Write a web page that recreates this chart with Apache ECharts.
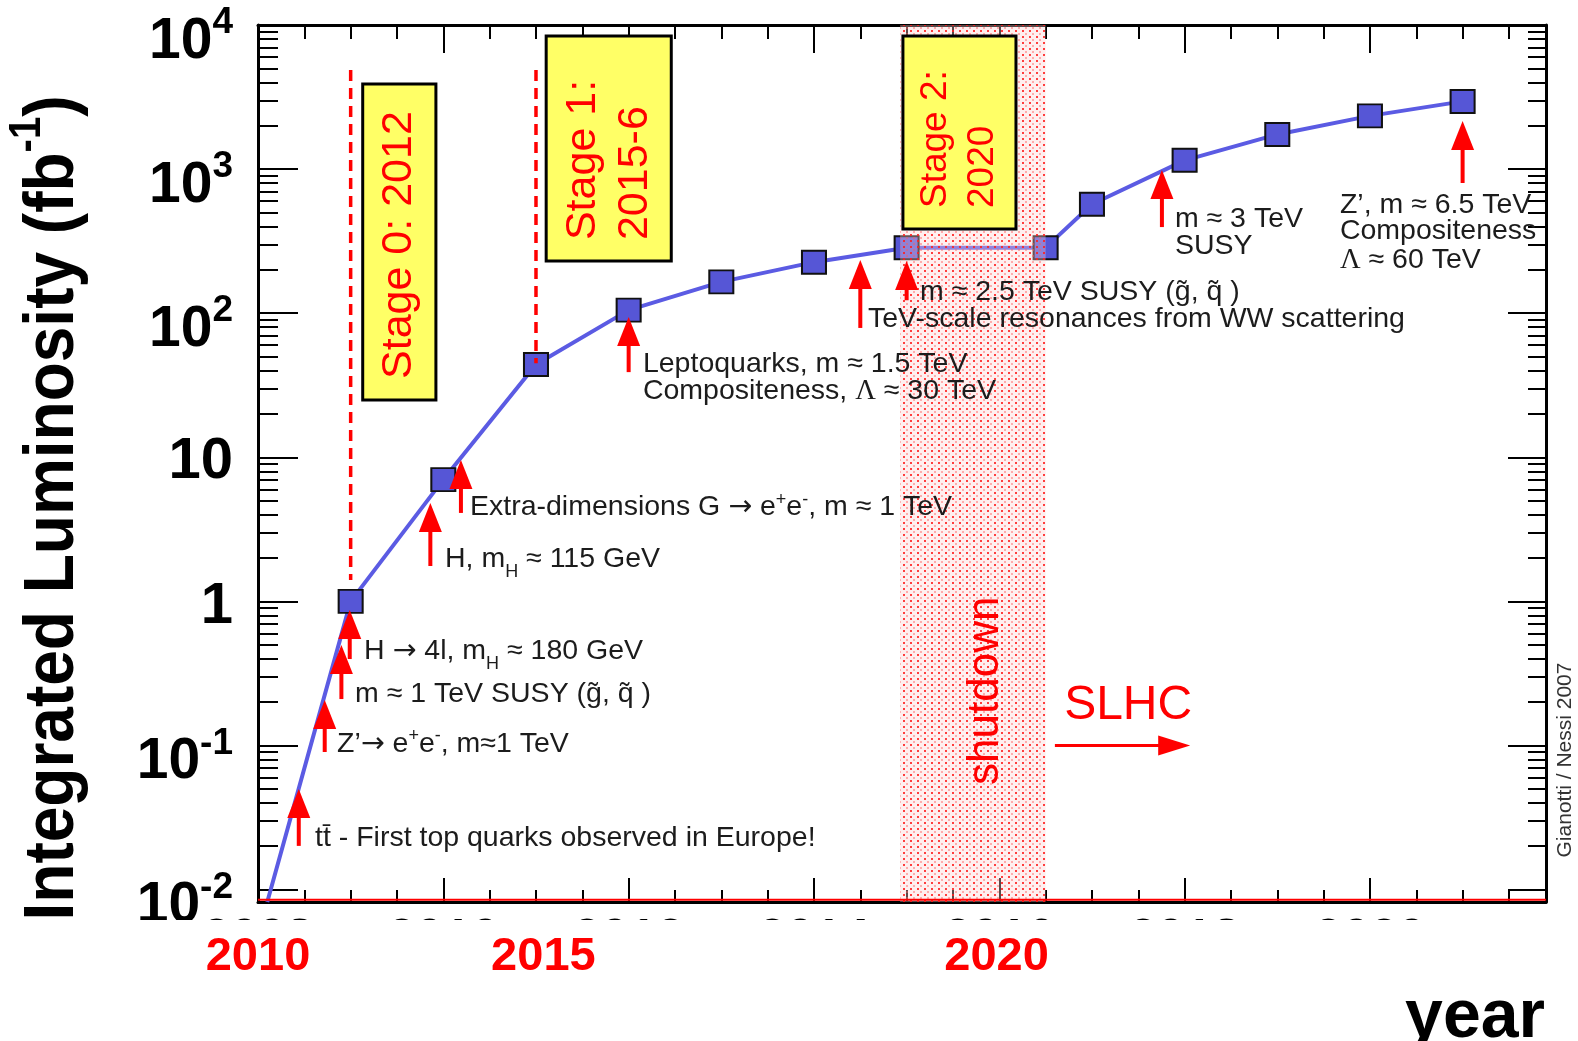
<!DOCTYPE html>
<html>
<head>
<meta charset="utf-8">
<title>Integrated Luminosity vs year</title>
<script src="https://cdn.jsdelivr.net/npm/echarts@6/dist/echarts.min.js"></script>
<style>
  html, body { margin: 0; padding: 0; background: #fff; }
  #chart { width: 1578px; height: 1041px; }
</style>
</head>
<body>
<div id="chart"></div>
<script>
// Projected integrated luminosity (fb^-1) per year
const years = [2008.1, 2009, 2010, 2011, 2012, 2013, 2014, 2015, 2016.5, 2017, 2018, 2019, 2020, 2021];
const luminosity = [0.0082, 1, 7, 44, 105, 165, 226, 285, 285, 570, 1150, 1740, 2340, 2950];

// Axis ticks and labels
const yearMajorTicks = [2008, 2010, 2012, 2014, 2016, 2018, 2020];
const yearMinorTicks = [2008.5, 2009, 2009.5, 2010.5, 2011, 2011.5, 2012.5, 2013, 2013.5,
  2014.5, 2015, 2015.5, 2016.5, 2017, 2017.5, 2018.5, 2019, 2019.5, 2020.5, 2021, 2021.5];
const lumDecades = [0.01, 0.1, 1, 10, 100, 1000, 10000];
const lumMinorTicks = [
  0.02, 0.03, 0.04, 0.05, 0.06, 0.07, 0.08, 0.09,
  0.2, 0.3, 0.4, 0.5, 0.6, 0.7, 0.8, 0.9,
  2, 3, 4, 5, 6, 7, 8, 9,
  20, 30, 40, 50, 60, 70, 80, 90,
  200, 300, 400, 500, 600, 700, 800, 900,
  2000, 3000, 4000, 5000, 6000, 7000, 8000, 9000
];
const calendarLabels = ['2010', '2015', '2020'];
const calendarLabelAt = [2008, 2011.08, 2015.97];

// Upgrade stages
const stageText = ['Stage 0: 2012', 'Stage 1:\n2015-6', 'Stage 2:\n2020'];
const stageFrom = [2009.13, 2011.11, 2014.96];
const stageTo = [2009.92, 2012.46, 2016.18];
const stageTop = [3900, 8390, 8390];
const stageBottom = [25, 230, 384];
const stageLineYear = [2009, 2011];
const stageLineTop = [4880, 4880];
const stageLineBottom = [1.41, 45];

// Shutdown period
const shutdownFrom = 2014.93;
const shutdownTo = 2016.5;

// Red baseline along the year axis
const baselineLum = 0.0085;

// Physics reach arrows: year, tip, tail
const arrowYear = [2008.44, 2008.72, 2008.90, 2008.99, 2009.86, 2010.19, 2012.0, 2014.5, 2015.0, 2017.755, 2021.0];
const arrowTip  = [0.0499, 0.207, 0.498, 0.871, 4.82, 9.58, 94, 234, 230, 985, 2157];
const arrowTail = [0.0201, 0.0901, 0.210, 0.398, 1.76, 4.11, 39, 79, 123, 396, 801];

// Physics reach notes
const noteText = [
  'tt\u0304 - First top quarks observed in Europe!',
  'Z\u2019{ar|\u2192} e{sup|+}e{sup|-}, m\u22481 TeV',
  'm \u2248 1 TeV SUSY (g\u0303, q\u0303 )',
  'H {ar|\u2192} 4l, m{sub|H} \u2248 180 GeV',
  'H, m{sub|H} \u2248 115 GeV',
  'Extra-dimensions G {ar|\u2192} e{sup|+}e{sup|-}, m \u2248 1 TeV',
  'Leptoquarks, m \u2248 1.5 TeV',
  'Compositeness, {L|\u039b} \u2248 30 TeV',
  'TeV-scale resonances from WW scattering',
  'm \u2248 2.5 TeV SUSY (g\u0303, q\u0303 )',
  'm \u2248 3 TeV',
  'SUSY',
  'Z\u2019, m \u2248 6.5 TeV',
  'Compositeness',
  '{L|\u039b} \u2248 60 TeV'
];
const noteYear = [2008.615, 2008.853, 2009.047, 2009.144, 2010.018, 2010.288, 2012.154, 2012.154,
  2014.583, 2015.144, 2017.895, 2017.895, 2019.676, 2019.676, 2019.676];
const noteLum = [0.0226, 0.1016, 0.226, 0.449, 1.95, 4.48, 44.0, 28.6, 90.4, 141, 447, 291, 558, 369, 232];

// SLHC era marker
const slhcArrowFrom = 2016.6;
const slhcArrowTo = 2018.06;
const slhcArrowLum = 0.1;
const bandLabelText = ['shutdown', 'SLHC'];
const bandLabelYear = [2015.857, 2016.70];
const bandLabelLum = [0.0532, 0.188];

const FONT = "'Liberation Sans', Arial, Helvetica, sans-serif";
const X_MIN = 2008, X_MAX = 2021.9, Y_MIN = 0.0082, Y_MAX = 10000;
const RED = '#ff0000';

// dotted fill for the shutdown band
const dots = document.createElement('canvas');
dots.width = 7; dots.height = 6;
(function () {
  const g = dots.getContext('2d');
  g.fillStyle = 'rgba(255,210,210,0.35)';
  g.fillRect(0, 0, 7, 6);
  g.fillStyle = 'rgba(255,30,30,0.85)';
  g.fillRect(0, 0, 2, 2);
  g.fillStyle = 'rgba(255,90,90,0.45)';
  g.fillRect(3, 3, 2, 2);
})();

function xAxisBase(extra) {
  return Object.assign({
    type: 'value', min: X_MIN, max: X_MAX, gridIndex: 0,
    splitLine: { show: false },
    axisLine: { show: false, onZero: false },
    axisTick: { show: false },
    axisLabel: { show: false },
    minorTick: { show: false }
  }, extra);
}
function yAxisBase(extra) {
  return Object.assign({
    type: 'log', logBase: 10, min: Y_MIN, max: Y_MAX, gridIndex: 0,
    splitLine: { show: false },
    axisLine: { show: false, onZero: false },
    axisTick: { show: false },
    axisLabel: { show: false },
    minorTick: { show: false }
  }, extra);
}
const frameLine = { show: true, onZero: false, lineStyle: { color: '#000', width: 3 } };
function ticks(values, length) {
  return { show: true, inside: true, length: length, customValues: values, lineStyle: { color: '#000', width: 2 } };
}

const NOTE_SIZE = 28.5;
const noteRich = {
  sub: { fontSize: 18, lineHeight: 18, fontFamily: FONT, padding: [25, 0, 0, 0], verticalAlign: 'middle' },
  sup: { fontSize: 18, lineHeight: 18, fontFamily: FONT, padding: [0, 0, 16, 0], verticalAlign: 'middle' },
  ar: { fontSize: NOTE_SIZE, fontFamily: "'DejaVu Sans', sans-serif", verticalAlign: 'middle' },
  L: { fontSize: NOTE_SIZE, fontFamily: "'Liberation Serif', 'DejaVu Serif', serif", verticalAlign: 'middle' }
};

const chart = echarts.init(document.getElementById('chart'));

chart.setOption({
  animation: false,
  backgroundColor: '#fff',
  grid: { left: 258, right: 32, top: 25, bottom: 139, containLabel: false, outerBoundsMode: 'none' },
  xAxis: [
    xAxisBase({
      position: 'bottom', axisLine: frameLine, axisTick: ticks(yearMajorTicks, 24),
      axisLabel: {
        show: true, customValues: yearMajorTicks, margin: 38, verticalAlign: 'middle',
        color: '#000', fontSize: 50, fontWeight: 'bold', fontFamily: FONT,
        formatter: function (v) { return String(v); }
      }
    }),
    xAxisBase({ position: 'bottom', axisTick: ticks(yearMinorTicks, 12) }),
    xAxisBase({ position: 'top', axisLine: frameLine, axisTick: ticks(yearMajorTicks, 28) }),
    xAxisBase({ position: 'top', axisTick: ticks(yearMinorTicks, 14) }),
    xAxisBase({
      position: 'bottom', z: 60,
      axisLabel: {
        show: true, customValues: calendarLabelAt, margin: 55, verticalAlign: 'middle',
        color: RED, fontSize: 47, fontWeight: 'bold', fontFamily: FONT,
        formatter: function (v) { const i = calendarLabelAt.indexOf(v); return i >= 0 ? calendarLabels[i] : ''; }
      }
    })
  ],
  yAxis: [
    yAxisBase({
      position: 'left', axisLine: frameLine, axisTick: ticks(lumDecades, 40),
      axisLabel: {
        show: true, customValues: lumDecades, margin: 25, color: '#000', fontFamily: FONT, fontWeight: 'bold',
        formatter: function (v) {
          const e = Math.round(Math.log10(v));
          if (e === 1) return '{p|10}';
          if (e === 0) return '{q|1}';
          return '{b|10}{s|' + (e < 0 ? '-' + (-e) : String(e)) + '}';
        },
        rich: {
          p: { fontSize: 58, lineHeight: 58, fontWeight: 'bold', fontFamily: FONT, padding: [10, 0, 0, 0], verticalAlign: 'middle' },
          q: { fontSize: 58, lineHeight: 58, fontWeight: 'bold', fontFamily: FONT, padding: [12, 0, 0, 0], verticalAlign: 'middle' },
          b: { fontSize: 57, lineHeight: 57, fontWeight: 'bold', fontFamily: FONT, padding: [34, 0, 0, 0], verticalAlign: 'middle' },
          s: { fontSize: 37, lineHeight: 37, fontWeight: 'bold', fontFamily: FONT, padding: [0, 0, 4, 0], verticalAlign: 'middle' }
        }
      }
    }),
    yAxisBase({ position: 'left', axisTick: ticks(lumMinorTicks, 20) }),
    yAxisBase({ position: 'right', axisLine: frameLine, axisTick: ticks(lumDecades, 38) }),
    yAxisBase({ position: 'right', axisTick: ticks(lumMinorTicks, 18) })
  ],
  graphic: [
    {
      type: 'rect', z: 50, silent: true,
      shape: { x: 120, y: 920, width: 1458, height: 121 },
      style: { fill: '#fff' }
    },
    {
      type: 'text', z: 70, x: 54, y: 508, rotation: Math.PI / 2, scaleY: 1.1,
      style: {
        text: 'Integrated Luminosity (fb{s|-1})', fill: '#000', fontSize: 64, fontWeight: 'bold', fontFamily: FONT,
        align: 'center', verticalAlign: 'middle',
        rich: { s: { fontSize: 40, lineHeight: 40, fontWeight: 'bold', fontFamily: FONT, padding: [0, 0, 48, 0], verticalAlign: 'middle' } }
      }
    },
    {
      type: 'text', z: 70, x: 1545, y: 1018,
      style: { text: 'year', fill: '#000', fontSize: 68, fontWeight: 'bold', fontFamily: FONT, align: 'right', verticalAlign: 'middle' }
    },
    {
      type: 'text', z: 70, x: 1565, y: 760, rotation: Math.PI / 2,
      style: { text: 'Gianotti / Nessi 2007', fill: '#333', fontSize: 21, fontFamily: FONT, align: 'center', verticalAlign: 'middle' }
    }
  ],
  series: [
    {
      name: 'Integrated luminosity',
      type: 'line', xAxisIndex: 0, yAxisIndex: 0, z: 2,
      data: years.map(function (y, i) {
        return i === 0 ? { value: [y, luminosity[i]], symbol: 'none' } : [y, luminosity[i]];
      }),
      symbol: 'rect', symbolSize: [24, 23],
      lineStyle: { color: '#5b5be3', width: 4 },
      itemStyle: { color: '#5656d6', borderColor: '#111', borderWidth: 2 }
    },
    {
      name: 'baseline',
      type: 'custom', xAxisIndex: 0, yAxisIndex: 0, z: 8, silent: true,
      data: [[X_MIN, baselineLum, X_MAX]],
      renderItem: function (params, api) {
        const a = api.coord([api.value(0), api.value(1)]);
        const b = api.coord([api.value(2), api.value(1)]);
        return { type: 'line', shape: { x1: a[0], y1: a[1], x2: b[0], y2: b[1] }, style: { stroke: RED, lineWidth: 2 } };
      }
    },
    {
      name: 'shutdown band',
      type: 'custom', xAxisIndex: 0, yAxisIndex: 0, z: 3, silent: true,
      data: [[shutdownFrom, shutdownTo]],
      renderItem: function (params, api) {
        const a = api.coord([api.value(0), Y_MAX]);
        const b = api.coord([api.value(1), Y_MIN]);
        return {
          type: 'rect',
          shape: { x: a[0], y: a[1], width: b[0] - a[0], height: b[1] - a[1] },
          style: { fill: { image: dots, repeat: 'repeat' } }
        };
      }
    },
    {
      name: 'stage markers',
      type: 'custom', xAxisIndex: 0, yAxisIndex: 0, z: 4, silent: true,
      data: stageLineYear.map(function (y, i) { return [y, stageLineTop[i], stageLineBottom[i]]; }),
      renderItem: function (params, api) {
        const t = api.coord([api.value(0), api.value(1)]);
        const b = api.coord([api.value(0), api.value(2)]);
        return {
          type: 'line',
          shape: { x1: t[0], y1: t[1], x2: b[0], y2: b[1] },
          style: { stroke: RED, lineWidth: 3.5, lineDash: [11, 7] }
        };
      }
    },
    {
      name: 'stages',
      type: 'custom', xAxisIndex: 0, yAxisIndex: 0, z: 5, silent: true,
      data: stageFrom.map(function (f, i) { return [f, stageTo[i], stageTop[i], stageBottom[i]]; }),
      renderItem: function (params, api) {
        const i = params.dataIndex;
        const tl = api.coord([api.value(0), api.value(2)]);
        const br = api.coord([api.value(1), api.value(3)]);
        const fontSize = [43, 43, 37][i];
        const gap = [52, 52, 47][i];
        return {
          type: 'group',
          children: [
            {
              type: 'rect',
              shape: { x: tl[0], y: tl[1], width: br[0] - tl[0], height: br[1] - tl[1] },
              style: { fill: '#ffff66', stroke: '#000', lineWidth: 3 }
            },
            {
              type: 'text', x: (tl[0] + br[0]) / 2, y: br[1] - 21, rotation: Math.PI / 2,
              style: {
                text: stageText[i], fill: RED, fontSize: fontSize, fontFamily: FONT,
                align: 'left', verticalAlign: 'middle', lineHeight: gap
              }
            }
          ]
        };
      }
    },
    {
      name: 'reach arrows',
      type: 'custom', xAxisIndex: 0, yAxisIndex: 0, z: 6, silent: true,
      data: arrowYear.map(function (y, i) { return [y, arrowTip[i], arrowTail[i]]; }),
      renderItem: function (params, api) {
        const tip = api.coord([api.value(0), api.value(1)]);
        const tail = api.coord([api.value(0), api.value(2)]);
        const headLen = 29, halfW = 11.5;
        return {
          type: 'group',
          children: [
            { type: 'line', shape: { x1: tip[0], y1: tip[1] + headLen - 2, x2: tail[0], y2: tail[1] },
              style: { stroke: RED, lineWidth: 4 } },
            { type: 'polygon', shape: { points: [[tip[0], tip[1]], [tip[0] - halfW, tip[1] + headLen], [tip[0] + halfW, tip[1] + headLen]] },
              style: { fill: RED } }
          ]
        };
      }
    },
    {
      name: 'reach notes',
      type: 'custom', xAxisIndex: 0, yAxisIndex: 0, z: 7, silent: true,
      data: noteYear.map(function (y, i) { return [y, noteLum[i]]; }),
      renderItem: function (params, api) {
        const p = api.coord([api.value(0), api.value(1)]);
        return {
          type: 'text', x: p[0], y: p[1],
          style: {
            text: noteText[params.dataIndex], fill: '#1c1c1c', fontSize: NOTE_SIZE, fontFamily: FONT,
            align: 'left', verticalAlign: 'middle', rich: noteRich
          }
        };
      }
    },
    {
      name: 'SLHC arrow',
      type: 'custom', xAxisIndex: 0, yAxisIndex: 0, z: 6, silent: true,
      data: [[slhcArrowFrom, slhcArrowLum, slhcArrowTo]],
      renderItem: function (params, api) {
        const a = api.coord([api.value(0), api.value(1)]);
        const b = api.coord([api.value(2), api.value(1)]);
        const headLen = 32, halfW = 10;
        return {
          type: 'group',
          children: [
            { type: 'line', shape: { x1: a[0], y1: a[1], x2: b[0] - headLen + 2, y2: b[1] },
              style: { stroke: RED, lineWidth: 3 } },
            { type: 'polygon', shape: { points: [[b[0], b[1]], [b[0] - headLen, b[1] - halfW], [b[0] - headLen, b[1] + halfW]] },
              style: { fill: RED } }
          ]
        };
      }
    },
    {
      name: 'band labels',
      type: 'custom', xAxisIndex: 0, yAxisIndex: 0, z: 7, silent: true,
      data: bandLabelYear.map(function (y, i) { return [y, bandLabelLum[i]]; }),
      renderItem: function (params, api) {
        const i = params.dataIndex;
        const p = api.coord([api.value(0), api.value(1)]);
        return {
          type: 'text', x: p[0], y: p[1], rotation: i === 0 ? Math.PI / 2 : 0,
          style: {
            text: bandLabelText[i], fill: RED, fontSize: i === 0 ? 44 : 48, fontFamily: FONT,
            align: 'left', verticalAlign: 'middle'
          }
        };
      }
    }
  ]
});
</script>
</body>
</html>
